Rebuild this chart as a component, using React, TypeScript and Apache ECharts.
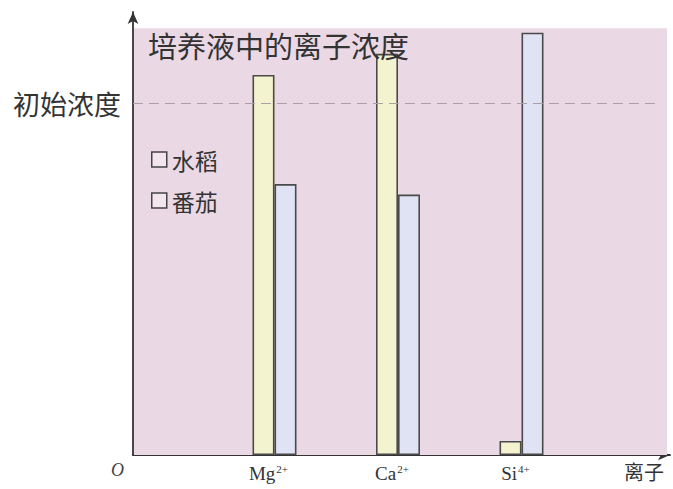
import React, { useEffect, useRef } from "react";
import * as echarts from "echarts";

const ions = ["Mg", "Ca", "Si"];
const charges = ["2+", "2+", "4+"];
const riceValues = [108, 114, 4];
const tomatoValues = [77, 74, 120];
const initialLevel = 100;
const seriesNames = ["水稻", "番茄"];

const Y_MAX = 125.9;
const PINK_TOP = 121.3;
const X_MAX = 537;

const SERIF = "'Liberation Serif', 'DejaVu Serif', 'Noto Sans CJK SC', serif";
const CJK = "'Noto Sans CJK SC', 'Liberation Serif', serif";

export default function App() {
  const ref = useRef<HTMLDivElement>(null);
  useEffect(() => {
    if (!ref.current) return;
    const chart = echarts.init(ref.current, null, { renderer: "svg" });
    const labels = ions.map((n, i) => `{a|${n}}{s|${charges[i]}}`);
    chart.setOption({
      animation: false,
      backgroundColor: "#ffffff",
      title: {
        text: "培养液中的离子浓度",
        left: 143,
        top: 25,
        textStyle: { fontFamily: CJK, fontSize: 29, fontWeight: "normal", color: "#333" },
      },
      legend: {
        orient: "vertical",
        left: 146,
        top: 143,
        itemGap: 18,
        itemWidth: 15,
        itemHeight: 15,
        icon: "rect",
        data: seriesNames,
        itemStyle: { color: "rgba(255,255,255,0.35)", borderColor: "#444", borderWidth: 1.5 },
        textStyle: { fontFamily: CJK, fontSize: 23, color: "#333" },
      },
      grid: [
        { left: 133, right: 3, top: 12, bottom: 34 },
        { left: 212.75, right: 89.75, top: 12, bottom: 34 },
      ],
      xAxis: [
        {
          type: "value",
          gridIndex: 0,
          min: 0,
          max: X_MAX,
          interval: X_MAX,
          splitLine: { show: false },
          axisTick: { show: false },
          axisLine: {
            show: true,
            symbol: ["none", "arrow"],
            symbolSize: [8, 12],
            lineStyle: { color: "#333", width: 1.8 },
          },
          axisLabel: {
            formatter: (v: number) => (v === 0 ? "O" : ""),
            fontFamily: SERIF,
            fontStyle: "italic",
            fontSize: 18,
            color: "#444",
            align: "right",
            padding: [0, 9, 0, 0],
            margin: 6,
          },
          name: "离子",
          nameLocation: "end",
          nameGap: -46,
          nameTextStyle: {
            fontFamily: CJK,
            fontSize: 20,
            color: "#333",
            verticalAlign: "top",
            align: "left",
            padding: [7, 0, 0, 0],
          },
        },
        {
          type: "category",
          gridIndex: 1,
          data: labels,
          axisLine: { show: false },
          axisTick: { show: false },
          axisLabel: {
            margin: 8,
            padding: [0, 12, 0, 0],
            rich: {
              a: { fontFamily: SERIF, fontSize: 19, color: "#333" },
              s: { fontFamily: SERIF, fontSize: 11, color: "#333", verticalAlign: "top", padding: [0, 0, 10, 1] },
            },
          },
        },
      ],
      yAxis: [
        {
          type: "value",
          gridIndex: 0,
          min: 0,
          max: Y_MAX,
          splitLine: { show: false },
          axisTick: { show: false },
          axisLabel: { show: false },
          axisLine: {
            show: true,
            symbol: ["none", "arrow"],
            symbolSize: [8, 12],
            lineStyle: { color: "#333", width: 1.8 },
          },
        },
        {
          type: "value",
          gridIndex: 1,
          min: 0,
          max: Y_MAX,
          show: false,
          splitLine: { show: false },
        },
      ],
      series: [
        {
          type: "line",
          name: "bg",
          xAxisIndex: 0,
          yAxisIndex: 0,
          data: [],
          silent: true,
          markArea: {
            silent: true,
            itemStyle: { color: "#ebd8e5", opacity: 1 },
            data: [[{ coord: [1, 0] }, { coord: [X_MAX - 3, PINK_TOP] }]],
          },
          markLine: {
            silent: true,
            symbol: "none",
            lineStyle: { type: [10, 6], color: "#a9a0a8", width: 1.2 },
            label: {
              show: true,
              position: "start",
              formatter: "初始浓度",
              distance: 12,
              fontFamily: CJK,
              fontSize: 27,
              color: "#333",
            },
            data: [[{ coord: [0, initialLevel] }, { coord: [X_MAX - 10, initialLevel] }]],
          },
        },
        {
          type: "bar",
          name: seriesNames[0],
          xAxisIndex: 1,
          yAxisIndex: 1,
          barWidth: 22,
          barGap: "0%",
          data: riceValues,
          itemStyle: { color: "#f4f3cf", borderColor: "#4a4a4a", borderWidth: 1.6 },
        },
        {
          type: "bar",
          name: seriesNames[1],
          xAxisIndex: 1,
          yAxisIndex: 1,
          barWidth: 22,
          data: tomatoValues,
          itemStyle: { color: "#dfe3f4", borderColor: "#4a4a4a", borderWidth: 1.6 },
        },
      ],
    });
    return () => chart.dispose();
  }, []);
  return <div ref={ref} style={{ width: 673, height: 489, position: "absolute", left: 0, top: 0 }} />;
}
